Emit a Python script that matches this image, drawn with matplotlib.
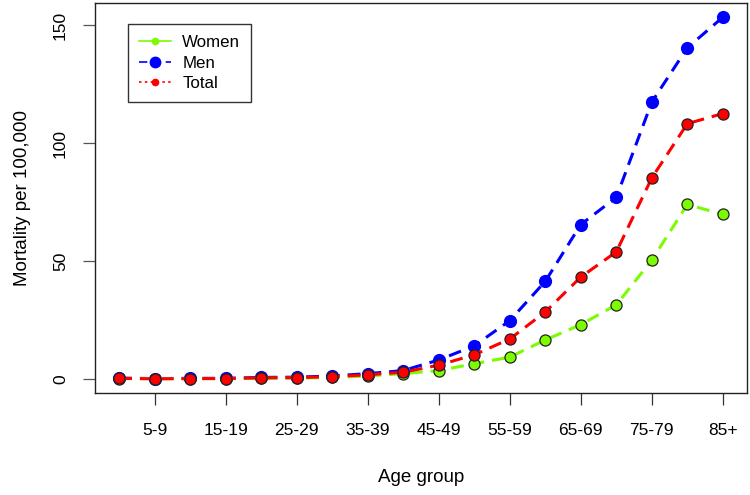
import matplotlib
matplotlib.use("Agg")
import matplotlib.pyplot as plt
from matplotlib.lines import Line2D

plt.rcParams['font.family'] = ['Liberation Sans', 'DejaVu Sans']

age_groups = ["0-4", "5-9", "10-14", "15-19", "20-24", "25-29", "30-34", "35-39",
              "40-44", "45-49", "50-54", "55-59", "60-64", "65-69", "70-74",
              "75-79", "80-84", "85+"]
women = [0.1, 0.1, 0.1, 0.1, 0.2, 0.3, 0.6, 1.2, 2.2, 3.5, 6.4, 9.2, 16.5, 23.0,
         31.4, 50.4, 74.0, 69.8]
men = [0.3, 0.1, 0.2, 0.2, 0.6, 0.7, 1.2, 2.2, 3.5, 8.0, 14.0, 24.7, 41.4, 65.5,
       77.0, 117.5, 140.5, 153.5]
total = [0.2, 0.0, 0.1, 0.1, 0.4, 0.5, 0.9, 1.7, 2.8, 5.8, 10.2, 16.9, 28.4, 43.2,
         53.9, 85.3, 108.3, 112.6]
y_ticks = [0, 50, 100, 150]

c_women = "#7CFC00"
c_men = "#0000FF"
c_total = "#FF0000"

x = list(range(1, len(age_groups) + 1))

fig = plt.figure(figsize=(7.5, 4.95), dpi=100)
ax = fig.add_axes([0.1267, 0.2055, 0.8693, 0.789])

dash = (4.2, 2.6)
ax.plot(x, men, color=c_men, lw=2.2, ls=(0, dash), marker='o', ms=9.5,
        mfc=c_men, mec=c_men, mew=0, zorder=3)
ax.plot(x, women, color=c_women, lw=2.2, ls=(0, dash), marker='o', ms=8,
        mfc=c_women, mec='#222222', mew=0.9, zorder=4)
ax.plot(x, total, color=c_total, lw=2.2, ls=(0, dash), marker='o', ms=8,
        mfc=c_total, mec='#222222', mew=0.9, zorder=5)

n = len(age_groups)
ax.set_xlim(1 - 0.04 * (n - 1), n + 0.04 * (n - 1))
ymax = max(men)
ax.set_ylim(-0.04 * ymax, ymax * 1.04)

ax.set_xticks(x[1::2])
ax.set_xticklabels(age_groups[1::2], fontsize=12.5)
ax.set_yticks(y_ticks)
ax.set_yticklabels([str(v) for v in y_ticks], fontsize=12.5, rotation=90, va='center')
ax.tick_params(axis='x', direction='out', length=8.5, width=0.9, pad=13, color='#333333')
ax.tick_params(axis='y', direction='out', length=8.5, width=0.9, pad=11, color='#555555')
for s in ax.spines.values():
    s.set_linewidth(1.0)
    s.set_color('#222222')

ax.set_xlabel("Age group", fontsize=13.5, labelpad=22)
ax.set_ylabel("Mortality per 100,000", fontsize=13.5, labelpad=16)

handles = [
    Line2D([], [], color=c_women, lw=1.2, ls='-', marker='o', ms=4.5),
    Line2D([], [], color=c_men, lw=1.2, ls=(0, (5, 3)), marker='o', ms=7.5),
    Line2D([], [], color=c_total, lw=1.2, ls=(0, (1.5, 2)), marker='o', ms=4.5),
]
leg = ax.legend(handles, ["Women", "Men", "Total"], loc='upper left',
                bbox_to_anchor=(0.0506, 0.945), fontsize=12.2, frameon=True,
                fancybox=False, edgecolor='black', handlelength=1.9,
                borderpad=0.65, labelspacing=0.32, handletextpad=0.65,
                borderaxespad=0)
leg.get_frame().set_linewidth(1.0)

fig.savefig("out.png", dpi=100)
